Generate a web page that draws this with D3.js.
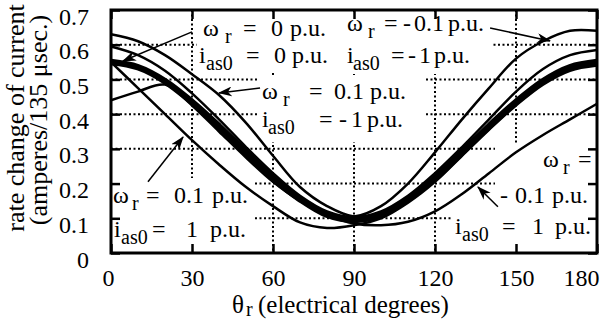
<!DOCTYPE html>
<html lang="en">
<head>
<meta charset="UTF-8">
<title>rate change of current</title>
<style>
  body { margin: 0; background: white; }
  svg { display: block; background: white; }
  text { font-family: "Liberation Serif", "Times New Roman", serif; fill: black; }
</style>
</head>
<body>
<script src="https://d3js.org/d3.v7.min.js"></script>
<script>
{
    // rotor position, electrical degrees
    let theta = [0, 10, 20, 30, 40, 50, 60, 70, 80, 90, 100, 110, 120, 130, 140, 150, 160, 170, 180];

    // rate change of current (amperes / 135 usec)
    let w0_i0   = [0.55, 0.535, 0.495, 0.435, 0.365, 0.29, 0.215, 0.155, 0.11, 0.095, 0.11, 0.155, 0.215, 0.29, 0.365, 0.435, 0.495, 0.535, 0.55];
    let w01_i1  = [0.55, 0.475, 0.40, 0.325, 0.255, 0.19, 0.135, 0.088, 0.072, 0.08, 0.10, 0.145, 0.205, 0.28, 0.355, 0.425, 0.485, 0.525, 0.54];
    let w01_im1 = [0.63, 0.61, 0.57, 0.515, 0.455, 0.375, 0.28, 0.19, 0.135, 0.105, 0.12, 0.165, 0.23, 0.305, 0.385, 0.465, 0.53, 0.57, 0.585];
    let wm01_im1 = [0.595, 0.57, 0.525, 0.46, 0.385, 0.305, 0.23, 0.165, 0.12, 0.105, 0.135, 0.20, 0.29, 0.385, 0.475, 0.56, 0.61, 0.64, 0.64];
    let wm01_i1 = [0.44, 0.465, 0.485, 0.425, 0.35, 0.275, 0.205, 0.15, 0.11, 0.085, 0.08, 0.09, 0.12, 0.17, 0.23, 0.29, 0.34, 0.385, 0.43];

    let xTicks = [0, 30, 60, 90, 120, 150, 180];
    let yTicks = [0, 0.1, 0.2, 0.3, 0.4, 0.5, 0.6, 0.7];
    let yTickLabels = ['0', '0.1', '0.2', '0.3', '0.4', '0.5', '0.6', '0.7'];

    let svg = d3.select('body')
        .append('svg')
        .attr('width', 600)
        .attr('height', 320);

    let x = d3.scaleLinear().domain([0, 180]).range([111, 597]);
    let y = d3.scaleLinear().domain([0, 0.7]).range([253, 10]);

    // dotted grid
    let grid = svg.append('g')
        .attr('stroke', 'black')
        .attr('stroke-width', 2)
        .attr('stroke-dasharray', '2,2.5');
    grid.selectAll('.gx')
        .data(xTicks.slice(1, -1))
        .enter().append('line')
        .attr('x1', d => x(d)).attr('x2', d => x(d))
        .attr('y1', y(0.7)).attr('y2', y(0));
    grid.selectAll('.gy')
        .data(yTicks.slice(1, -1))
        .enter().append('line')
        .attr('x1', x(0)).attr('x2', x(180))
        .attr('y1', d => y(d)).attr('y2', d => y(d));

    // label boxes hide the grid behind the notes
    let boxes = [[197, 14, 146, 58], [343, 12, 149, 62], [258, 75, 166, 67],
                 [112, 178, 143, 73], [495, 145, 101, 55], [452, 200, 144, 51]];
    svg.selectAll('.box')
        .data(boxes)
        .enter().append('rect')
        .attr('x', d => d[0]).attr('y', d => d[1])
        .attr('width', d => d[2]).attr('height', d => d[3])
        .attr('fill', 'white');

    let line = d3.line()
        .x((d, i) => x(theta[i]))
        .y(d => y(d))
        .curve(d3.curveCatmullRom);

    svg.append('path')
        .attr('d', line(w0_i0))
        .attr('fill', 'none')
        .attr('stroke', 'black')
        .attr('stroke-width', 6.5);

    [w01_i1, w01_im1, wm01_im1, wm01_i1].forEach(s => {
        svg.append('path')
            .attr('d', line(s))
            .attr('fill', 'none')
            .attr('stroke', 'black')
            .attr('stroke-width', 2.5);
    });

    // frame and inner ticks
    svg.append('rect')
        .attr('x', x(0)).attr('y', y(0.7))
        .attr('width', x(180) - x(0)).attr('height', y(0) - y(0.7))
        .attr('fill', 'none')
        .attr('stroke', 'black')
        .attr('stroke-width', 3);

    function styleAxis(g) {
        g.select('.domain').remove();
        g.selectAll('.tick line').attr('stroke-width', 2.5);
        g.attr('font-family', null).attr('font-size', 24);
    }

    svg.append('g')
        .attr('transform', 'translate(0,' + y(0) + ')')
        .call(d3.axisBottom(x).tickValues(xTicks).tickSize(-9).tickSizeOuter(0))
        .call(styleAxis)
        .call(g => g.selectAll('text')
            .attr('y', 33).attr('dy', 0)
            .attr('text-anchor', d => d === 180 ? 'end' : 'middle')
            .attr('x', d => d === 180 ? 2 : (d === 0 ? -3 : 0)));

    svg.append('g')
        .attr('transform', 'translate(0,' + y(0.7) + ')')
        .call(d3.axisTop(x).tickValues(xTicks).tickSize(-9).tickSizeOuter(0).tickFormat(''))
        .call(styleAxis);

    svg.append('g')
        .attr('transform', 'translate(' + x(0) + ',0)')
        .call(d3.axisLeft(y).tickValues(yTicks).tickSize(-9).tickSizeOuter(0)
            .tickFormat((d, i) => yTickLabels[i]))
        .call(styleAxis)
        .call(g => g.selectAll('text').attr('x', -22).attr('y', 14).attr('dy', 0));

    svg.append('g')
        .attr('transform', 'translate(' + x(180) + ',0)')
        .call(d3.axisRight(y).tickValues(yTicks).tickSize(-9).tickSizeOuter(0).tickFormat(''))
        .call(styleAxis);

    // axis titles
    svg.append('text')
        .attr('transform', 'translate(24,118) rotate(-90)')
        .attr('text-anchor', 'middle')
        .attr('font-size', 26)
        .text('rate change of current');
    svg.append('text')
        .attr('transform', 'translate(47,120) rotate(-90)')
        .attr('text-anchor', 'middle')
        .attr('font-size', 26)
        .text('(amperes/135 \u03bcsec.)');

    let xt = svg.append('text').attr('font-size', 25);
    xt.append('tspan').attr('x', 232).attr('y', 313).text('\u03b8');
    xt.append('tspan').attr('x', 246).attr('y', 316).attr('font-size', 20).text('r');
    xt.append('tspan').attr('x', 258).attr('y', 313).text('(electrical degrees)');

    // notes: [x, text, subscript?]
    let notes = [
        { y: 36, parts: [[203, '\u03c9'], [225, 'r', 1], [243, '='], [271, '0'], [290, 'p.u.']] },
        { y: 63, parts: [[199, 'i'], [206, 'as0', 1], [246, '='], [274, '0'], [292, 'p.u.']] },
        { y: 31, parts: [[347, '\u03c9'], [368, 'r', 1], [384, '='], [403, '-'], [414, '0.1'], [448, 'p.u.']] },
        { y: 63, parts: [[347, 'i'], [353, 'as0', 1], [391, '='], [408, '-'], [419, '1'], [434, 'p.u.']] },
        { y: 99, parts: [[262, '\u03c9'], [283, 'r', 1], [309, '='], [334, '0.1'], [370, 'p.u.']] },
        { y: 127, parts: [[262, 'i'], [268, 'as0', 1], [319, '='], [339, '-'], [351, '1'], [367, 'p.u.']] },
        { y: 203, parts: [[113, '\u03c9'], [132, 'r', 1], [146, '='], [174, '0.1'], [212, 'p.u.']] },
        { y: 237, parts: [[114, 'i'], [121, 'as0', 1], [152, '='], [186, '1'], [210, 'p.u.']] },
        { y: 167, parts: [[543, '\u03c9'], [563, 'r', 1], [578, '=']] },
        { y: 203, parts: [[500, '-'], [515, '0.1'], [552, 'p.u.']] },
        { y: 234, parts: [[455, 'i'], [462, 'as0', 1], [502, '='], [532, '1'], [555, 'p.u.']] }
    ];
    notes.forEach(n => {
        let t = svg.append('text').attr('font-size', 24);
        n.parts.forEach(p => {
            t.append('tspan')
                .attr('x', p[0])
                .attr('y', p[2] ? n.y + 7 : n.y)
                .attr('font-size', p[2] ? 20 : null)
                .text(p[1]);
        });
    });

    // arrows, in data units: [theta0, v0, theta1, v1]
    let arrows = [[30.0, 0.637, 4.4, 0.553], [55.2, 0.475, 40.0, 0.461], [140.4, 0.648, 162.6, 0.611],
                  [13.7, 0.205, 26.7, 0.334], [143.3, 0.133, 135.9, 0.19]];

    svg.append('defs').append('marker')
        .attr('id', 'head')
        .attr('markerUnits', 'userSpaceOnUse')
        .attr('markerWidth', 14).attr('markerHeight', 10)
        .attr('refX', 13).attr('refY', 5)
        .attr('orient', 'auto')
        .append('path')
        .attr('d', 'M0,0 L14,5 L0,10 L4,5 Z')
        .attr('fill', 'black');

    svg.selectAll('.arrow')
        .data(arrows)
        .enter().append('line')
        .attr('x1', d => x(d[0])).attr('y1', d => y(d[1]))
        .attr('x2', d => x(d[2])).attr('y2', d => y(d[3]))
        .attr('stroke', 'black')
        .attr('stroke-width', 1.5)
        .attr('marker-end', 'url(#head)');
}
</script>
</body>
</html>
